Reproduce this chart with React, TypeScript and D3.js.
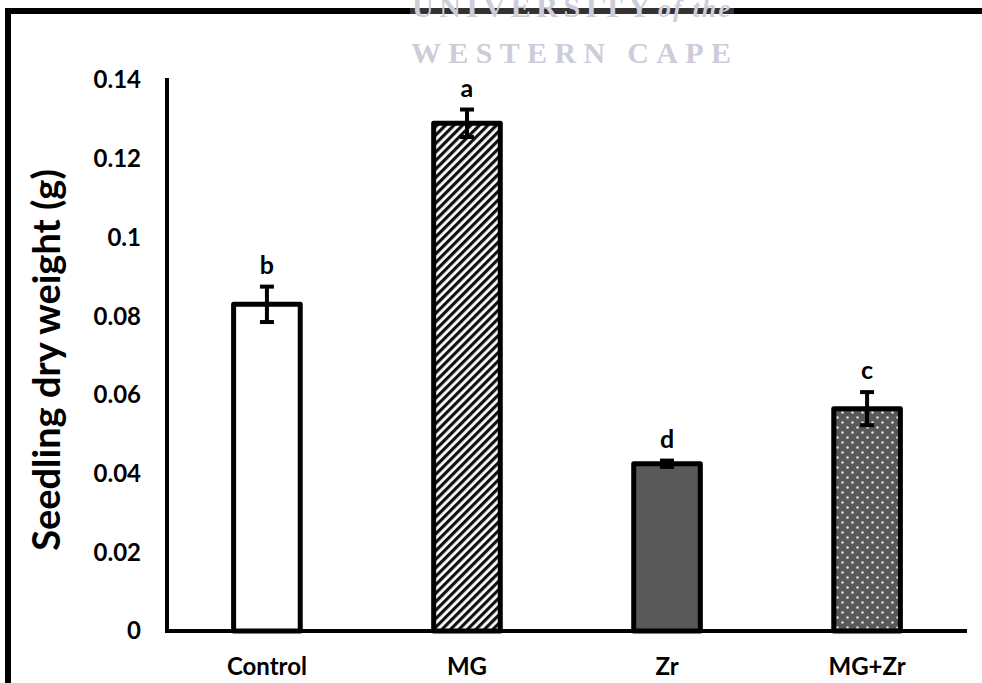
import React from "react";
import * as d3 from "d3";

const categories = ["Control", "MG", "Zr", "MG+Zr"];
const means = [0.083, 0.129, 0.0425, 0.0565];
const errors = [0.0045, 0.0035, 0.0008, 0.0042];
const letters = ["b", "a", "d", "c"];
const yTicks = [0, 0.02, 0.04, 0.06, 0.08, 0.1, 0.12, 0.14];
const fills = ["#ffffff", "url(#hatch)", "#595959", "url(#dots)"];

const W = 982;
const H = 683;
const FONT = "Lato, 'Open Sans', sans-serif";

export default function App() {
  const x = d3
    .scaleBand<string>()
    .domain(categories)
    .range([167, 967])
    .paddingInner(0.667)
    .paddingOuter(0.333);
  const y = d3.scaleLinear().domain([0, 0.14]).range([631, 80]);
  const bw = x.bandwidth();

  return (
    <svg
      width={W}
      height={H}
      style={{ position: "absolute", left: 0, top: 0, background: "#fff" }}
    >
      <defs>
        <pattern id="hatch" width="6" height="6" patternUnits="userSpaceOnUse" patternTransform="rotate(45)">
          <rect width="6" height="6" fill="#fff" />
          <rect width="3.2" height="6" fill="#111" />
        </pattern>
        <pattern id="dots" width="10" height="10" patternUnits="userSpaceOnUse">
          <rect width="10" height="10" fill="#595959" />
          <circle cx="2.5" cy="2.5" r="1.3" fill="#e0e0e0" />
          <circle cx="7.5" cy="7.5" r="1.3" fill="#e0e0e0" />
        </pattern>
      </defs>

      {/* frame */}
      <path d={`M8,683 V11 H982`} fill="none" stroke="#000" strokeWidth={6} />

      {/* bars */}
      {categories.map((c, i) => (
        <rect
          key={c}
          x={x(c)!}
          y={y(means[i])}
          width={bw}
          height={y(0) - y(means[i])}
          fill={fills[i]}
          stroke="#000"
          strokeWidth={5}
          strokeLinejoin="round"
        />
      ))}

      {/* error bars */}
      {categories.map((c, i) => {
        const cx = x(c)! + bw / 2;
        const y1 = y(means[i] + errors[i]);
        const y2 = y(means[i] - errors[i]);
        return (
          <g key={c + "e"} stroke="#000">
            <line x1={cx} x2={cx} y1={y1} y2={y2} strokeWidth={4} />
            <line x1={cx - 7} x2={cx + 7} y1={y1} y2={y1} strokeWidth={4} />
            <line x1={cx - 7} x2={cx + 7} y1={y2} y2={y2} strokeWidth={4} />
          </g>
        );
      })}

      {/* letters */}
      {categories.map((c, i) => (
        <text
          key={c + "l"}
          x={x(c)! + bw / 2}
          y={y(means[i] + errors[i]) - 13}
          textAnchor="middle"
          fontFamily={FONT}
          fontWeight={700}
          fontSize={25}
        >
          {letters[i]}
        </text>
      ))}

      {/* axes */}
      <line x1={167} x2={167} y1={78} y2={633} stroke="#000" strokeWidth={4} />
      <line x1={165} x2={967} y1={631} y2={631} stroke="#000" strokeWidth={4} />

      {yTicks.map((t) => (
        <text
          key={t}
          x={141}
          y={y(t)}
          dy="0.35em"
          textAnchor="end"
          fontFamily={FONT}
          fontWeight={700}
          fontSize={24}
        >
          {String(t)}
        </text>
      ))}

      {categories.map((c) => (
        <text
          key={c + "x"}
          x={x(c)! + bw / 2}
          y={667}
          dy="0.35em"
          textAnchor="middle"
          fontFamily={FONT}
          fontWeight={700}
          fontSize={24}
        >
          {c}
        </text>
      ))}

      <text
        transform={`translate(47,360) rotate(-90)`}
        textAnchor="middle"
        dy="0.35em"
        fontFamily={FONT}
        fontWeight={700}
        fontSize={38}
      >
        Seedling dry weight (g)
      </text>

      {/* watermark */}
      <rect x={410} y={0} width={324} height={68} fill="#fff" opacity={0.2} />
      <g fill="#cdcdda" fontFamily="'Liberation Serif', 'DejaVu Serif', serif" fontWeight={700}>
        <text x={412} y={17} fontSize={30} textLength={238} lengthAdjust="spacing">
          UNIVERSITY
        </text>
        <text x={658} y={17} fontSize={26} fontStyle="italic" textLength={72} lengthAdjust="spacing">
          of the
        </text>
        <text x={411} y={63} fontSize={30} textLength={320} lengthAdjust="spacing">
          WESTERN CAPE
        </text>
      </g>
    </svg>
  );
}
